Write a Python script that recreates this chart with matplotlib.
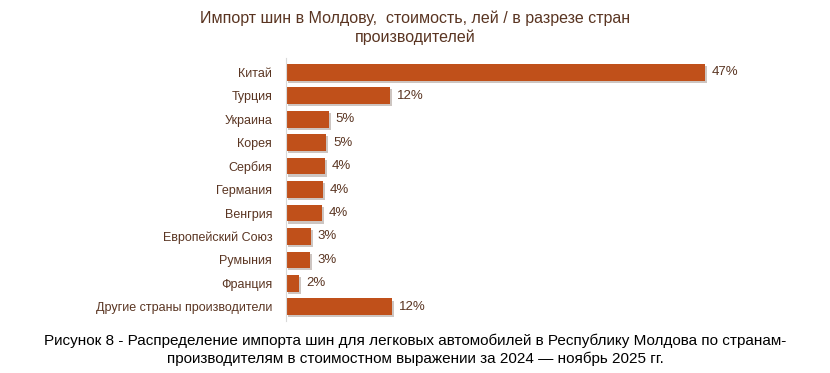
import matplotlib.pyplot as plt
import matplotlib.patheffects as pe

countries = ['Китай', 'Турция', 'Украина', 'Корея', 'Сербия', 'Германия', 'Венгрия',
             'Европейский Союз', 'Румыния', 'Франция', 'Другие страны производители']
shares = [47, 11.7, 4.8, 4.5, 4.4, 4.1, 4.0, 2.8, 2.7, 1.5, 11.9]
labels = ['47%', '12%', '5%', '5%', '4%', '4%', '4%', '3%', '3%', '2%', '12%']

bar_color = '#C0501A'
text_color = '#5A3522'

plt.rcParams['font.family'] = ['Liberation Sans', 'DejaVu Sans']

fig = plt.figure(figsize=(8.3, 3.73), dpi=100)
ax = fig.add_axes([0.3446, 0.1394, 0.56, 0.705])

y = list(range(len(countries)))
bars = ax.barh(y, shares, height=0.72, color=bar_color,
               path_effects=[pe.SimplePatchShadow(offset=(1.5, -1.5), alpha=0.25), pe.Normal()])
for yi, v, lab in zip(y, shares, labels):
    ax.annotate(lab, (v, yi), xytext=(5, 0), textcoords='offset points',
                va='center', ha='left', fontsize=9.5, color=text_color)

ax.set_yticks(y)
ax.set_yticklabels(countries, fontsize=9, color=text_color)
ax.set_ylim(10.6, -0.6)
ax.set_xlim(0, 52.2)
ax.tick_params(axis='y', length=0, pad=10)
ax.set_xticks([])
for s in ['top', 'right', 'bottom']:
    ax.spines[s].set_visible(False)
ax.spines['left'].set_color('#D9D9D9')

fig.text(0.5, 0.925, 'Импорт шин в Молдову,  стоимость, лей / в разрезе стран\nпроизводителей',
         ha='center', va='center', fontsize=11.5, color=text_color, linespacing=1.3)

fig.text(0.5, 0.062, 'Рисунок 8 - Распределение импорта шин для легковых автомобилей в Республику Молдова по странам-\n'
         'производителям в стоимостном выражении за 2024 — ноябрь 2025 гг.',
         ha='center', va='center', fontsize=11, color='black', linespacing=1.25)

plt.savefig('out.png', dpi=100)
